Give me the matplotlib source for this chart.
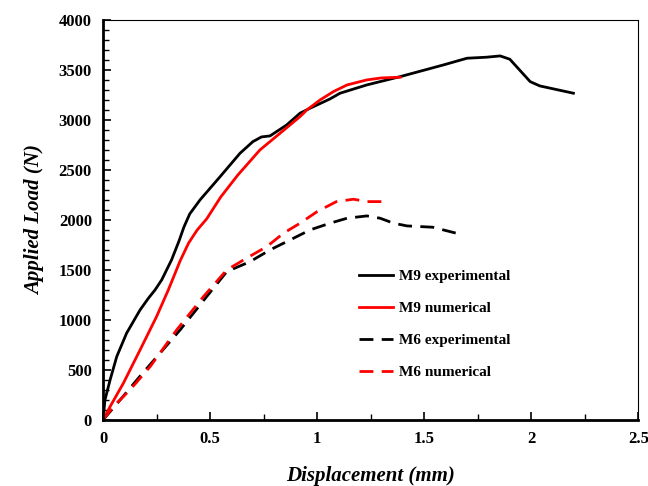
import matplotlib.pyplot as plt
from matplotlib.ticker import MultipleLocator

# M9 experimental
m9_exp_x = [0, 0.009, 0.033, 0.064, 0.11, 0.173, 0.212, 0.243, 0.274, 0.32, 0.355, 0.378, 0.405,
            0.453, 0.547, 0.64, 0.70, 0.74, 0.78, 0.858, 0.92, 0.967, 1.06, 1.107, 1.232, 1.388,
            1.59, 1.70, 1.79, 1.855, 1.90, 1.995, 2.04, 2.197]
m9_exp_y = [0, 200, 400, 633, 867, 1100, 1217, 1300, 1400, 1600, 1790, 1930, 2060,
            2200, 2433, 2667, 2783, 2830, 2840, 2950, 3067, 3117, 3210, 3267, 3350, 3433,
            3550, 3617, 3627, 3640, 3607, 3383, 3340, 3267]

# M9 numerical
m9_num_x = [0, 0.033, 0.095, 0.173, 0.25, 0.305, 0.36, 0.40, 0.44, 0.484, 0.55, 0.63, 0.733,
            0.827, 0.92, 0.952, 1.014, 1.076, 1.14, 1.232, 1.30, 1.388]
m9_num_y = [0, 133, 367, 700, 1033, 1300, 1590, 1770, 1900, 2010, 2230, 2450, 2700,
            2867, 3033, 3100, 3200, 3283, 3350, 3400, 3420, 3427]

# M6 experimental
m6_exp_x = [0, 0.08, 0.17, 0.266, 0.36, 0.484, 0.578, 0.687, 0.78, 0.874, 0.967, 1.06, 1.14,
            1.232, 1.294, 1.357, 1.42, 1.54, 1.65]
m6_exp_y = [0, 200, 430, 667, 900, 1233, 1483, 1583, 1700, 1800, 1900, 1967, 2017,
            2040, 2017, 1967, 1940, 1927, 1867]

# M6 numerical
m6_num_x = [0, 0.048, 0.126, 0.22, 0.344, 0.469, 0.578, 0.67, 0.765, 0.843, 0.92, 1.0, 1.09,
            1.17, 1.232, 1.318]
m6_num_y = [0, 133, 300, 533, 900, 1233, 1500, 1617, 1733, 1867, 1967, 2083, 2183,
            2207, 2183, 2183]

plt.rcParams['font.family'] = ['Liberation Serif', 'DejaVu Serif']

fig, ax = plt.subplots(figsize=(6.48, 4.86), dpi=100)
fig.subplots_adjust(left=0.159, right=0.985, top=0.959, bottom=0.136)

lw = 2.0
ax.plot(m9_exp_x, m9_exp_y, color='black', lw=lw, label='M9 experimental')
ax.plot(m9_num_x, m9_num_y, color='red', lw=lw, label='M9 numerical')
ax.plot(m6_exp_x, m6_exp_y, color='black', lw=lw, dashes=(5, 3), label='M6 experimental')
ax.plot(m6_num_x, m6_num_y, color='red', lw=lw, dashes=(5, 3), label='M6 numerical')

ax.set_xlim(0, 2.5)
ax.set_ylim(0, 4000)
ax.xaxis.set_major_locator(MultipleLocator(0.5))
ax.xaxis.set_minor_locator(MultipleLocator(0.25))
ax.yaxis.set_major_locator(MultipleLocator(500))
ax.yaxis.set_minor_locator(MultipleLocator(100))
ax.set_xticks([0, 0.5, 1, 1.5, 2, 2.5])
ax.set_xticklabels(['0', '0.5', '1', '1.5', '2', '2.5'])

ax.tick_params(which='both', direction='in', top=False, right=False)
ax.tick_params(which='major', length=6, width=1.2, labelsize=12, pad=8)
ax.tick_params(which='minor', length=4, width=1.0)
for lab in ax.get_xticklabels() + ax.get_yticklabels():
    lab.set_fontweight('bold')

ax.spines['left'].set_linewidth(2)
ax.spines['bottom'].set_linewidth(2)
ax.spines['top'].set_linewidth(0.8)
ax.spines['right'].set_linewidth(0.8)

ax.set_xlabel('Displacement (mm)', fontsize=15, fontweight='bold', fontstyle='italic', labelpad=14)
ax.set_ylabel('Applied Load (N)', fontsize=15, fontweight='bold', fontstyle='italic', labelpad=10)

leg = ax.legend(loc='upper left', bbox_to_anchor=(0.4525, 0.41), frameon=False,
                prop={'family': 'Liberation Serif', 'weight': 'bold', 'size': 11},
                handlelength=2.2, labelspacing=1.2, handletextpad=0.4)

fig.savefig('out.png', dpi=100)
